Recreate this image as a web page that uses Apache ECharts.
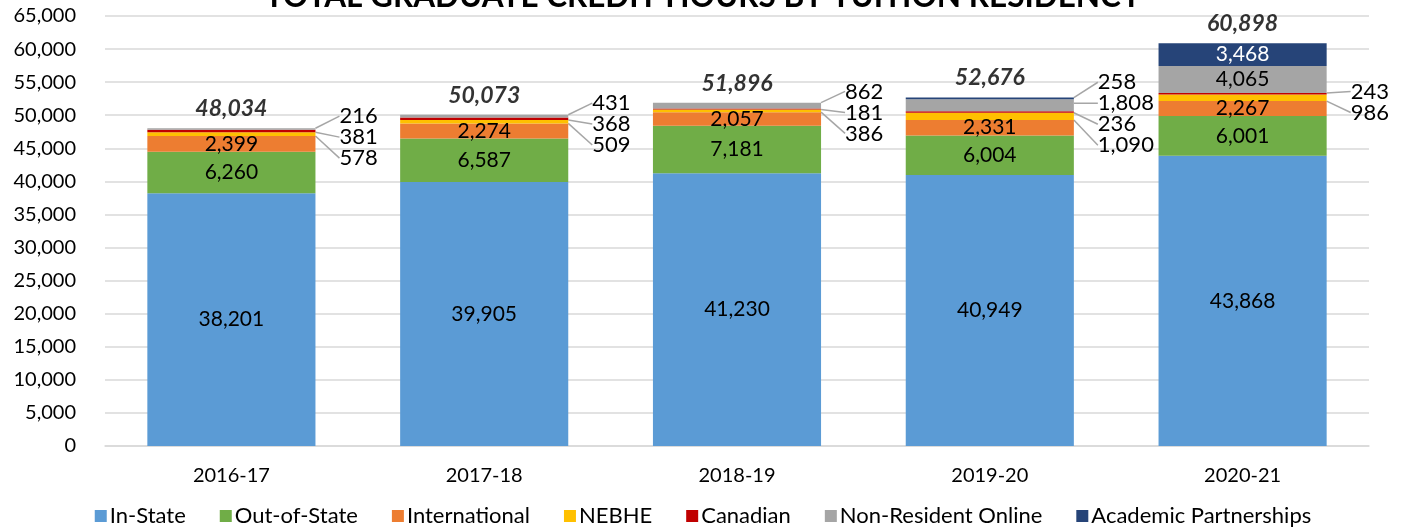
<!DOCTYPE html>
<html>
<head>
<meta charset="utf-8">
<title>Total Graduate Credit Hours by Tuition Residency</title>
<script src="https://cdn.jsdelivr.net/npm/echarts@6/dist/echarts.min.js"></script>
<style>
  html, body { margin: 0; padding: 0; background: #fff; }
  #main { width: 1406px; height: 529px; }
</style>
</head>
<body>
<div id="main"></div>
<script>
var years = ['2016-17', '2017-18', '2018-19', '2019-20', '2020-21'];
var inState = [38201, 39905, 41230, 40949, 43868];
var outOfState = [6260, 6587, 7181, 6004, 6001];
var international = [2399, 2274, 2057, 2331, 2267];
var nebhe = [578, 509, 386, 1090, 986];
var canadian = [381, 368, 181, 236, 243];
var nonResOnline = [216, 431, 862, 1808, 4065];
var academicPartners = [0, 0, 0, 258, 3468];
var totals = [48034, 50073, 51896, 52676, 60898];
var yTicks = [0, 5000, 10000, 15000, 20000, 25000, 30000, 35000, 40000, 45000, 50000, 55000, 60000, 65000];

var FONT = 'Lato';
var CALLOUT_MAX = 2000;   // segments smaller than this get a label outside the bar

var stack = [
  { name: 'In-State', values: inState, color: '#5b9bd5' },
  { name: 'Out-of-State', values: outOfState, color: '#70ad47' },
  { name: 'International', values: international, color: '#ed7d31' },
  { name: 'NEBHE', values: nebhe, color: '#ffc000' },
  { name: 'Canadian', values: canadian, color: '#c00000' },
  { name: 'Non-Resident Online', values: nonResOnline, color: '#a5a5a5' },
  { name: 'Academic Partnerships', values: academicPartners, color: '#264478', labelColor: '#fff' }
];

function fmt(v) { return Number(v).toLocaleString('en-US'); }

var chart = echarts.init(document.getElementById('main'));

// place small-segment labels to the right of the bar, stacked top to bottom
function calloutLayout(params) {
  var s = params.seriesIndex, i = params.dataIndex;
  if (s >= stack.length) return {};
  var v = stack[s].values[i];
  if (!v || v >= CALLOUT_MAX) return {};
  var list = [], base = 0, lo = null, hi = null;
  for (var k = 0; k < stack.length; k++) {
    var val = stack[k].values[i] || 0;
    if (val > 0 && val < CALLOUT_MAX) {
      list.push(k);
      if (lo === null) lo = base;
      hi = base + val;
    }
    base += val;
  }
  list.reverse();
  var pos = list.indexOf(s);
  var mid = chart.convertToPixel({ gridIndex: 0 }, [i, (lo + hi) / 2])[1];
  return {
    x: params.rect.x + params.rect.width + 24,
    y: mid + 5 + (pos - (list.length - 1) / 2) * 21,
    align: 'left',
    verticalAlign: 'middle'
  };
}

var series = stack.map(function (st) {
  return {
    name: st.name,
    type: 'bar',
    stack: 'hours',
    barWidth: '66.5%',
    itemStyle: { color: st.color },
    label: {
      show: true,
      position: 'inside',
      fontFamily: FONT,
      fontSize: 21,
      color: st.labelColor || '#000',
      formatter: function (p) { return p.value ? fmt(p.value) : ''; }
    },
    labelLine: { show: false },
    labelLayout: calloutLayout,
    data: st.values.map(function (v) {
      if (!v) return null;
      if (v < CALLOUT_MAX) {
        return {
          value: v,
          label: { color: '#000', fontSize: 22 },
          labelLine: { show: true, lineStyle: { color: '#a6a6a6', width: 1.5 } }
        };
      }
      return v;
    })
  };
});

series.push({
  name: 'Total',
  type: 'scatter',
  symbolSize: 0,
  silent: true,
  z: 10,
  label: {
    show: true,
    position: 'top',
    distance: 8,
    fontFamily: FONT,
    fontSize: 23,
    fontWeight: 'bold',
    fontStyle: 'italic',
    color: '#000',
    formatter: function (p) { return fmt(p.value); }
  },
  data: totals
});

var option = {
  animation: false,
  textStyle: { fontFamily: FONT },
  title: {
    text: 'TOTAL GRADUATE CREDIT HOURS BY TUITION RESIDENCY',
    left: 'center',
    top: -24,
    textStyle: { fontFamily: FONT, fontSize: 31.5, fontWeight: 'bold', color: '#000' }
  },
  legend: {
    data: stack.map(function (st) { return st.name; }),
    bottom: -3,
    left: 'center',
    icon: 'rect',
    itemWidth: 12,
    itemHeight: 12,
    itemGap: 34,
    textStyle: { fontFamily: FONT, fontSize: 22, color: '#000', padding: [0, 0, 0, -2] }
  },
  grid: { left: 105, right: 37, top: 16, bottom: 83, containLabel: false },
  xAxis: {
    type: 'category',
    data: years,
    axisLine: { lineStyle: { color: '#d9d9d9', width: 1.5 } },
    axisTick: { show: false },
    axisLabel: { fontFamily: FONT, fontSize: 20, color: '#000', margin: 20 }
  },
  yAxis: {
    type: 'value',
    min: yTicks[0],
    max: yTicks[yTicks.length - 1],
    interval: yTicks[1] - yTicks[0],
    axisLine: { show: false },
    axisTick: { show: false },
    splitLine: { lineStyle: { color: '#d9d9d9', width: 1.5 } },
    axisLabel: { fontFamily: FONT, fontSize: 20, color: '#000', margin: 29, formatter: fmt }
  },
  series: series
};

chart.setOption(option);
</script>
</body>
</html>
